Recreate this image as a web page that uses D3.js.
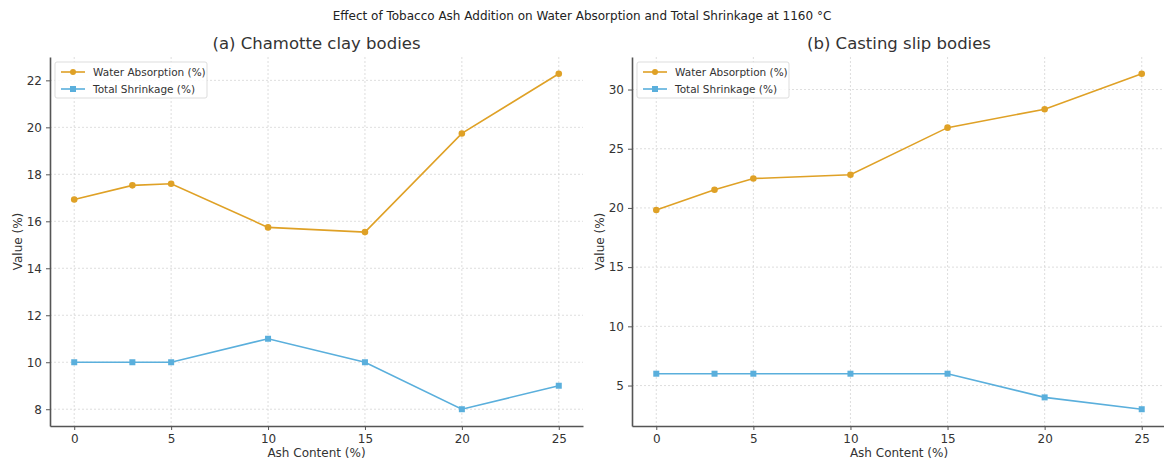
<!DOCTYPE html>
<html>
<head>
<meta charset="utf-8">
<script src="https://cdn.jsdelivr.net/npm/d3@7"></script>
<style>
  body { margin: 0; background: #fff; }
  text { font-family: "DejaVu Sans", sans-serif; }
</style>
</head>
<body>
<div id="vis-container"></div>
<script>
// data
const ashContent = [0, 3, 5, 10, 15, 20, 25];
const chamotteWater = [16.93, 17.53, 17.6, 15.74, 15.54, 19.74, 22.28];
const chamotteShrink = [10, 10, 10, 11, 10, 8, 9];
const slipWater = [19.83, 21.53, 22.48, 22.8, 26.78, 28.34, 31.33];
const slipShrink = [6, 6, 6, 6, 6, 4, 3];
const xTicks = [0, 5, 10, 15, 20, 25];
const chamotteTicks = [8, 10, 12, 14, 16, 18, 20, 22];
const slipTicks = [5, 10, 15, 20, 25, 30];
const seriesNames = ["Water Absorption (%)", "Total Shrinkage (%)"];

const width = 1164;
const height = 461;
const waterColor = "#dfa126";
const shrinkColor = "#5aafdc";

const svg = d3.select("#vis-container")
  .append("svg")
  .attr("width", width)
  .attr("height", height);

svg.append("text")
  .attr("x", 582)
  .attr("y", 20)
  .attr("text-anchor", "middle")
  .attr("font-size", "12px")
  .attr("fill", "#222")
  .text("Effect of Tobacco Ash Addition on Water Absorption and Total Shrinkage at 1160 °C");

function drawPanel(opts) {
  const { left, right, top, bottom, water, shrink, ticks, title } = opts;

  const allVals = water.concat(shrink);
  const yMin = d3.min(allVals), yMax = d3.max(allVals);
  const yPad = (yMax - yMin) * 0.05;

  const x = d3.scaleLinear().domain([-1.25, 26.25]).range([left, right]);
  const y = d3.scaleLinear().domain([yMin - yPad, yMax + yPad]).range([bottom, top]);

  const g = svg.append("g");

  // grid
  g.append("g").selectAll("line")
    .data(xTicks)
    .join("line")
      .attr("x1", d => x(d)).attr("x2", d => x(d))
      .attr("y1", top).attr("y2", bottom)
      .attr("stroke", "#d6d6d6").attr("stroke-width", 0.8)
      .attr("stroke-dasharray", "2,2");
  g.append("g").selectAll("line")
    .data(ticks)
    .join("line")
      .attr("x1", left).attr("x2", right)
      .attr("y1", d => y(d)).attr("y2", d => y(d))
      .attr("stroke", "#d6d6d6").attr("stroke-width", 0.8)
      .attr("stroke-dasharray", "2,2");

  // axes
  const xAxis = g.append("g")
    .attr("transform", `translate(0,${bottom})`)
    .call(d3.axisBottom(x).tickValues(xTicks).tickSize(4).tickPadding(4).tickSizeOuter(0));
  const yAxis = g.append("g")
    .attr("transform", `translate(${left},0)`)
    .call(d3.axisLeft(y).tickValues(ticks).tickSize(4).tickPadding(4).tickSizeOuter(0));

  [xAxis, yAxis].forEach(a => {
    a.select(".domain").attr("stroke", "#555").attr("stroke-width", 1.6);
    a.selectAll(".tick line").attr("stroke", "#555");
    a.selectAll(".tick text").attr("font-size", "12px").attr("fill", "#333")
      .attr("font-family", "DejaVu Sans, sans-serif");
  });

  // labels
  g.append("text")
    .attr("x", (left + right) / 2)
    .attr("y", 49)
    .attr("text-anchor", "middle")
    .attr("font-size", "16.5px")
    .attr("fill", "#333")
    .text(title);

  g.append("text")
    .attr("x", (left + right) / 2)
    .attr("y", 457)
    .attr("text-anchor", "middle")
    .attr("font-size", "12px")
    .attr("fill", "#333")
    .text("Ash Content (%)");

  g.append("text")
    .attr("transform", `translate(${left - 28},${(top + bottom) / 2}) rotate(-90)`)
    .attr("text-anchor", "middle")
    .attr("font-size", "12px")
    .attr("fill", "#333")
    .text("Value (%)");

  const line = d3.line()
    .x((d, i) => x(ashContent[i]))
    .y(d => y(d));

  // water absorption
  g.append("path")
    .datum(water)
    .attr("fill", "none")
    .attr("stroke", waterColor)
    .attr("stroke-width", 1.6)
    .attr("d", line);
  g.append("g").selectAll("circle")
    .data(water)
    .join("circle")
      .attr("cx", (d, i) => x(ashContent[i]))
      .attr("cy", d => y(d))
      .attr("r", 3.3)
      .attr("fill", waterColor);

  // shrinkage
  g.append("path")
    .datum(shrink)
    .attr("fill", "none")
    .attr("stroke", shrinkColor)
    .attr("stroke-width", 1.6)
    .attr("d", line);
  g.append("g").selectAll("rect")
    .data(shrink)
    .join("rect")
      .attr("x", (d, i) => x(ashContent[i]) - 3)
      .attr("y", d => y(d) - 3)
      .attr("width", 6)
      .attr("height", 6)
      .attr("fill", shrinkColor);

  // legend
  const lg = g.append("g").attr("transform", `translate(${left + 5},${top + 5})`);
  lg.append("rect")
    .attr("width", 152).attr("height", 36).attr("rx", 2)
    .attr("fill", "white").attr("fill-opacity", 0.85)
    .attr("stroke", "#ddd");
  [waterColor, shrinkColor].forEach((c, i) => {
    const row = lg.append("g").attr("transform", `translate(6,${10 + i * 17})`);
    row.append("line").attr("x1", 0).attr("x2", 24).attr("stroke", c).attr("stroke-width", 1.6);
    if (i === 0) row.append("circle").attr("cx", 12).attr("r", 3).attr("fill", c);
    else row.append("rect").attr("x", 9).attr("y", -3).attr("width", 6).attr("height", 6).attr("fill", c);
    row.append("text")
      .attr("x", 32).attr("y", 4)
      .attr("font-size", "10.5px")
      .attr("fill", "#333")
      .text(seriesNames[i]);
  });
}

drawPanel({
  left: 50, right: 583, top: 57, bottom: 426,
  water: chamotteWater, shrink: chamotteShrink,
  ticks: chamotteTicks, title: "(a) Chamotte clay bodies"
});

drawPanel({
  left: 632, right: 1166, top: 57, bottom: 426,
  water: slipWater, shrink: slipShrink,
  ticks: slipTicks, title: "(b) Casting slip bodies"
});
</script>
</body>
</html>
